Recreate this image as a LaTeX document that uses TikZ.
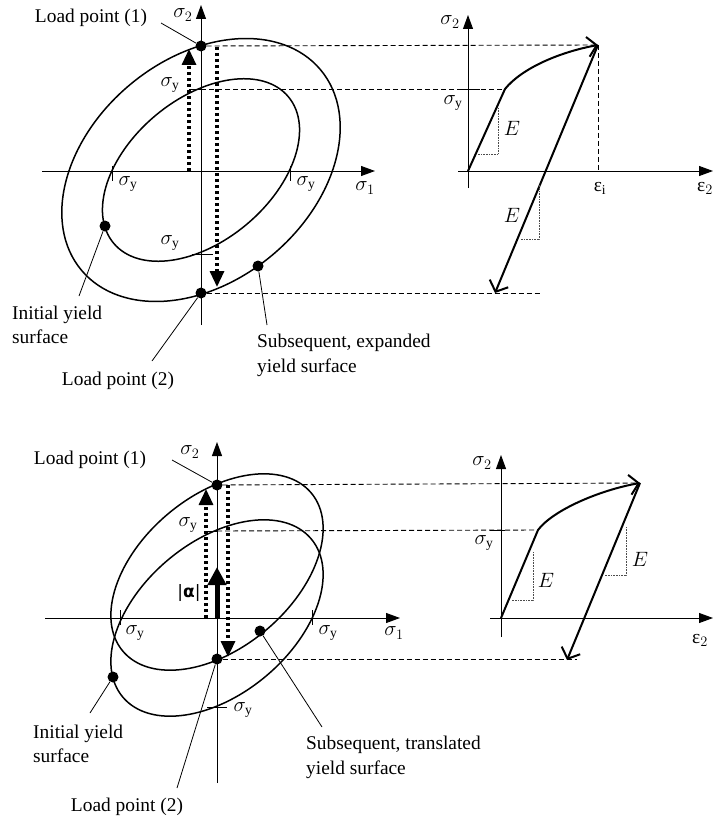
\documentclass[tikz,border=0pt]{standalone}
\usepackage{fontspec}
\setmainfont{Liberation Serif}
\newfontfamily\dejavu{DejaVu Sans}
\usetikzlibrary{arrows.meta}

\begin{document}
\begin{tikzpicture}[x=1pt,y=1pt,
  every node/.style={font=\fontsize{19.4}{24.5}\selectfont, inner sep=0pt},
  axis/.style={line width=0.9pt, -{Triangle[length=14pt,width=10pt]}},
  surface/.style={line width=1.5pt},
  dot/.style={circle, fill=black, minimum size=11pt, inner sep=0pt},
  leader/.style={line width=0.8pt},
  proj/.style={line width=0.9pt, dash pattern=on 5pt off 3pt},
  loadpath/.style={line width=3.2pt, dash pattern=on 3pt off 3pt, -{Triangle[length=16pt,width=14pt]}},
  curve/.style={line width=2pt},
  slope/.style={line width=0.6pt, densely dotted, black!70},
  barb/.style={-{Straight Barb[length=9pt,width=20pt,line width=2pt]}}]
\useasboundingbox (0,0) rectangle (713,-821);

% expanded yield surface
\coordinate (O1) at (201,-170);
\draw[axis] (42,-171) -- (375,-171);
\draw[axis] (201,-325) -- (201,-5);
\node at (365,-188) {$\sigma_1$};
\node at (183,-15) {$\sigma_2$};
\draw[surface, rotate around={40:(O1)}] (O1) ellipse (156 and 111);
\draw[surface, rotate around={40:(O1)}] (O1) ellipse (114 and 71);
\node[dot] (lp1) at (201,-46) {};
\node[dot] (lp2) at (201,-293) {};
\node[dot] (ini1) at (105,-226) {};
\node[dot] (sub1) at (258,-266) {};
\draw (112,-166) -- (112,-181);
\draw (290,-166) -- (290,-181);
\draw (189,-89) -- (201,-89);
\draw (192,-254) -- (213,-254);
\node at (128,-184) {$\sigma_{\mathrm{y}}$};
\node at (306,-184) {$\sigma_{\mathrm{y}}$};
\node at (170,-85) {$\sigma_{\mathrm{y}}$};
\node at (170,-243) {$\sigma_{\mathrm{y}}$};
\draw[loadpath] (189,-171) -- (189,-49);
\draw[loadpath] (217,-47) -- (217,-287);

\node (lp1lab) at (91,-18) {Load point (1)};
\coordinate (lp1end) at (161,-23);
\draw[leader] (lp1end) -- (lp1);
\node[anchor=west, align=left] (ini1lab) at (12,-325) {Initial yield\\surface};
\coordinate (ini1end) at (79,-296);
\draw[leader] (ini1end) -- (ini1);
\node[anchor=north west, align=left] (sub1lab) at (257,-334) {Subsequent, expanded\\yield surface};
\coordinate (sub1end) at (267,-325);
\draw[leader] (sub1end) -- (sub1);
\node (lp2lab) at (118,-381) {Load point (2)};
\coordinate (lp2end) at (152,-361);
\draw[leader] (lp2end) -- (lp2);

% stress-strain, expanded
\coordinate (S1) at (468,-171);
\coordinate (yield1) at (505,-89);
\coordinate (peak1) at (598,-45);
\coordinate (unl1) at (495,-293);
\coordinate (epsi) at (598,-171);
\coordinate (low1) at (540,-293);
\draw[axis] (458,-171) -- (713,-171);
\draw[axis] (468,-188) -- (468,-15);
\node at (450,-22) {$\sigma_2$};
\node at (453,-103) {$\sigma_{\mathrm{y}}$};
\node at (600,-188) {ε$_{\mathrm{i}}$};
\node[anchor=east] at (713,-188) {ε$_2$};
\draw (458,-89) -- (480,-89);
\draw[proj] (lp1) -- (peak1);
\draw[proj] (201,-89) -- (yield1);
\draw[proj] (lp2) -- (low1);
\draw[proj] (peak1) -- (epsi);
\draw[curve, barb] (S1) -- (yield1) .. controls (522,-68) and (560,-52) .. (peak1);
\draw[curve, barb] (peak1) -- (unl1);
\draw[slope] (498,-108) -- (498,-154) -- (478,-154);
\node at (512,-128) {$E$};
\draw[slope] (539,-183) -- (539,-239) -- (520,-239);
\node at (512,-215) {$E$};

% translated yield surface
\coordinate (O2) at (217,-618);
\coordinate (C2) at (217,-572);
\draw[axis] (45,-618) -- (400,-618);
\draw[axis] (217,-783) -- (217,-442);
\node at (394,-633) {$\sigma_1$};
\node at (190,-452) {$\sigma_2$};
\draw[surface, rotate around={40:(O2)}] (O2) ellipse (123 and 76);
\draw[surface, rotate around={40:(C2)}] (C2) ellipse (123 and 76);
\node[dot] (lp3) at (217,-485) {};
\node[dot] (lp4) at (217,-659) {};
\node[dot] (ini2) at (113,-677) {};
\node[dot] (sub2) at (260,-631) {};
\draw (120,-610) -- (120,-625);
\draw (312,-610) -- (312,-625);
\draw (206,-531) -- (217,-531);
\draw (207,-707) -- (227,-707);
\node at (135,-633) {$\sigma_{\mathrm{y}}$};
\node at (328,-633) {$\sigma_{\mathrm{y}}$};
\node at (188,-525) {$\sigma_{\mathrm{y}}$};
\node at (243,-710) {$\sigma_{\mathrm{y}}$};
\draw[loadpath] (206,-618) -- (206,-489);
\draw[loadpath] (228,-485) -- (228,-657);
\draw[line width=5pt, -{Triangle[length=18pt,width=18pt]}] (O2) -- (217,-567);
\node at (189,-593) {\fontsize{17}{20}\selectfont\dejavu|\textbf{α}|};

\node (lp3lab) at (90,-460) {Load point (1)};
\coordinate (lp3end) at (172,-460);
\draw[leader] (lp3end) -- (lp3);
\node[anchor=west, align=left] (ini2lab) at (33,-744) {Initial yield\\surface};
\coordinate (ini2end) at (90,-713);
\draw[leader] (ini2end) -- (ini2);
\node[anchor=north west, align=left] (sub2lab) at (306,-736) {Subsequent, translated\\yield surface};
\coordinate (sub2end) at (322,-727);
\draw[leader] (sub2end) -- (sub2);
\node (lp4lab) at (127,-807) {Load point (2)};
\coordinate (lp4end) at (177,-788);
\draw[leader] (lp4end) -- (lp4);

% stress-strain, translated
\coordinate (S2) at (501,-618);
\coordinate (yield2) at (538,-530);
\coordinate (peak2) at (640,-483);
\coordinate (unl2) at (567,-660);
\coordinate (low2) at (577,-659);
\draw[axis] (490,-618) -- (713,-618);
\draw[axis] (501,-637) -- (501,-455);
\node at (482,-463) {$\sigma_2$};
\node at (484,-543) {$\sigma_{\mathrm{y}}$};
\node at (700,-640) {ε$_2$};
\draw (490,-530) -- (505,-530);
\draw[proj] (lp3) -- (peak2);
\draw[proj] (217,-531) -- (yield2);
\draw[proj] (lp4) -- (low2);
\draw[curve, barb] (S2) -- (yield2) .. controls (553,-510) and (600,-490) .. (peak2);
\draw[curve, barb] (peak2) -- (unl2);
\draw[slope] (533,-552) -- (533,-600) -- (512,-600);
\node at (546,-580) {$E$};
\draw[slope] (626,-527) -- (626,-575) -- (605,-575);
\node at (640,-559) {$E$};
\end{tikzpicture}
\end{document}
